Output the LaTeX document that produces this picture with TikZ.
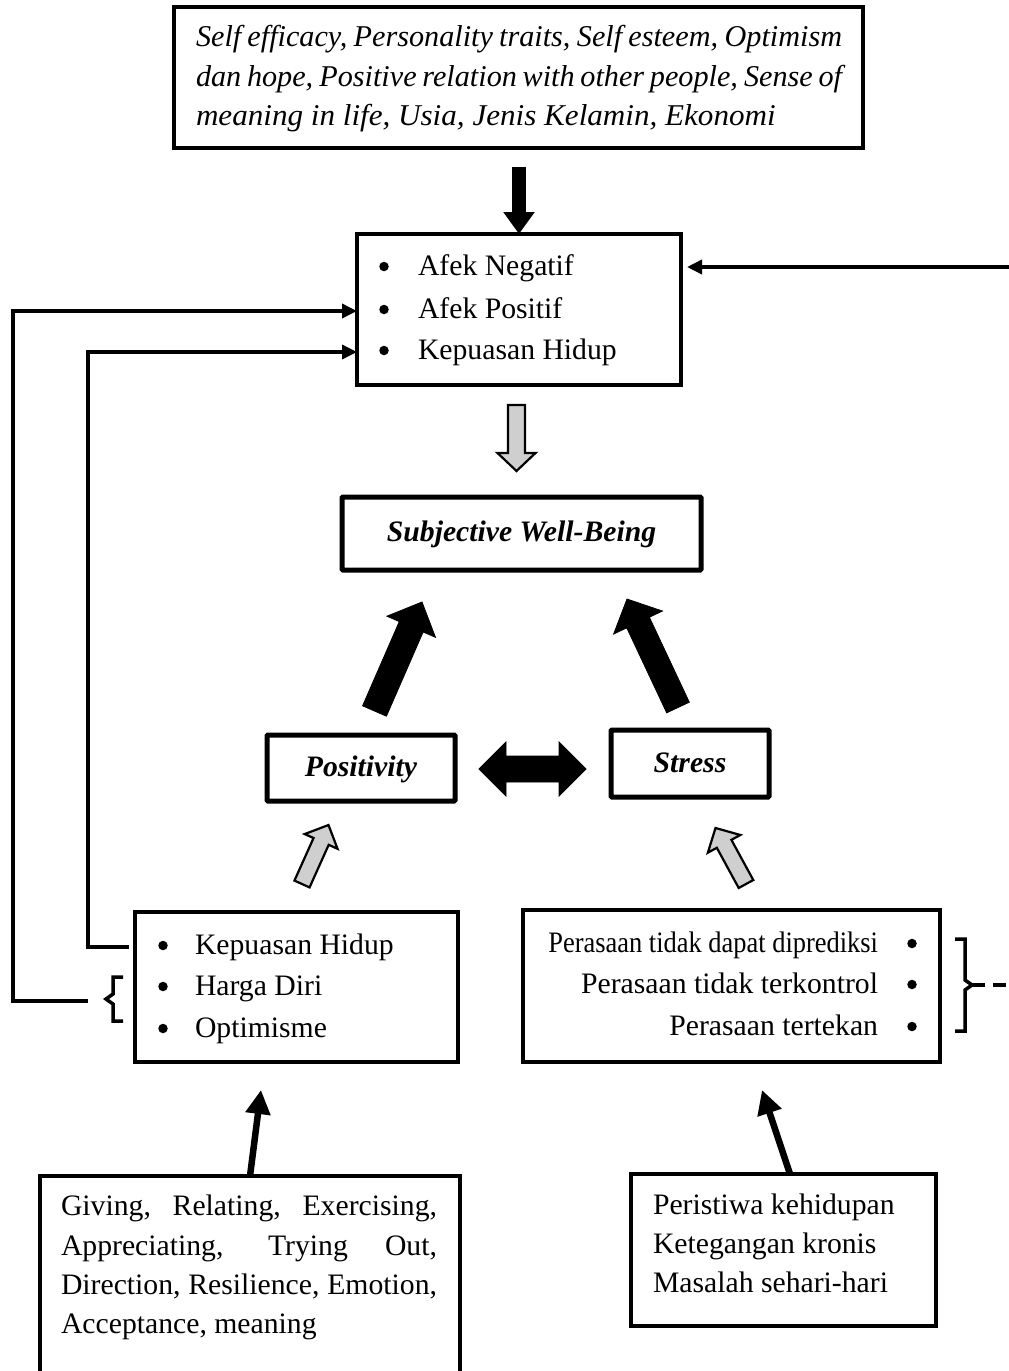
\documentclass[tikz,border=0pt]{standalone}
\usepackage{fontspec}
\setmainfont{Liberation Serif}
\usepackage{graphicx}
\usetikzlibrary{arrows.meta,calc}
\newcommand{\fs}{\fontsize{29.7}{36}\selectfont}
\newcommand{\fst}{\fontsize{30.2}{36}\selectfont}
\newcommand{\blockarr}[6]{%
  \coordinate (bac) at ($(#3)!#6!(#2)$);
  \draw[#1] ($(#2)!#4!90:(#3)$) -- ($(bac)!#4!90:(#3)$) -- ($(bac)!#5!90:(#3)$) -- (#3) -- ($(bac)!#5!-90:(#3)$) -- ($(bac)!#4!-90:(#3)$) -- ($(#2)!#4!-90:(#3)$) -- cycle;}
\tikzset{
  box/.style={draw, line width=3.3pt, inner sep=0pt, outer sep=0pt, rectangle},
  thickbox/.style={draw, line width=5pt, inner sep=0pt, outer sep=0pt, rectangle, rounded corners=1pt},
  txt/.style={inner sep=0pt, outer sep=0pt, anchor=base west, font=\fs},
  dot/.style={circle, fill=black, inner sep=0pt, outer sep=0pt, minimum size=9.5pt},
  conn/.style={line width=3.5pt, line join=miter, -{Triangle[length=15pt,width=14pt]}},
  thinarr/.style={line width=6.5pt, -{Triangle[length=24pt,width=24pt]}},
  blackarrow/.style={fill=black, draw=black, line width=0.8pt, line join=miter},
  grayarrow/.style={fill=black!19, draw=black, line width=2.2pt, line join=miter},
  brk/.style={line width=3.5pt, line join=miter},
}
\begin{document}
\begin{tikzpicture}[x=1pt,y=-1pt]
\useasboundingbox (0,0) rectangle (1009,1371);
\clip (0,0) rectangle (1009,1371);

% ---------- boxes ----------
\node[box, minimum width=689pt, minimum height=141pt] (top) at (518.5,77.5) {};
\node[box, minimum width=324pt, minimum height=151pt] (affect) at (519,309.5) {};
\node[thickbox, minimum width=359pt, minimum height=73pt] (swb) at (521.5,533.5) {};
\node[thickbox, minimum width=188pt, minimum height=66pt] (pos) at (361,768) {};
\node[thickbox, minimum width=158pt, minimum height=67pt] (stress) at (690,763.5) {};
\node[box, minimum width=323pt, minimum height=150pt] (poslist) at (296.5,987) {};
\node[box, minimum width=417pt, minimum height=152pt] (strlist) at (731.5,986) {};
\node[box, minimum width=420pt, minimum height=209pt] (bl) at (250,1280.5) {};
\node[box, minimum width=305pt, minimum height=152pt] (br) at (783.5,1250) {};

% ---------- texts ----------
\node[txt, font=\fst] (t1) at (196,46) {\itshape\makebox[646pt][s]{Self efficacy, Personality traits, Self esteem, Optimism}};
\node[txt, font=\fst] (t2) at (196,86) {\itshape\makebox[646pt][s]{dan hope, Positive relation with other people, Sense of}};
\node[txt, font=\fst] (t3) at (196,125) {\itshape\scalebox{1.03}[1]{meaning in life, Usia, Jenis Kelamin, Ekonomi}};

\foreach \n/\y/\s in {a1/275/Afek Negatif, a2/318/Afek Positif, a3/359/Kepuasan Hidup}{
  \node[dot] (\n b) at (384,\y-8.5) {};
  \node[txt] (\n) at (418,\y) {\s};
}

\node[txt, anchor=base] (swbt) at (521.5,541) {\bfseries\itshape Subjective Well-Being};
\node[txt, anchor=base] (post) at (361,776) {\bfseries\itshape Positivity};
\node[txt, anchor=base] (strt) at (690,772) {\bfseries\itshape Stress};

\foreach \n/\y/\s in {p1/954/Kepuasan Hidup, p2/995/Harga Diri, p3/1037/Optimisme}{
  \node[dot] (\n b) at (163,\y-8.5) {};
  \node[txt] (\n) at (195,\y) {\s};
}

\node[txt, anchor=base east] (s1) at (878,952) {\scalebox{0.89}[1]{Perasaan tidak dapat diprediksi}};
\node[txt, anchor=base east] (s2) at (878,993) {Perasaan tidak terkontrol};
\node[txt, anchor=base east] (s3) at (878,1035) {Perasaan tertekan};
\foreach \n/\y in {s1/952, s2/993, s3/1035}{
  \node[dot] (\n b) at (912,\y-8.5) {};
}

\node[txt] (b1) at (61,1215) {\makebox[376pt][s]{Giving, Relating, Exercising,}};
\node[txt] (b2) at (61,1255) {\makebox[376pt][s]{Appreciating, Trying Out,}};
\node[txt] (b3) at (61,1294) {\makebox[376pt][s]{Direction, Resilience, Emotion,}};
\node[txt] (b4) at (61,1333) {Acceptance, meaning};

\node[txt] (r1) at (653,1214) {Peristiwa kehidupan};
\node[txt] (r2) at (653,1253) {Ketegangan kronis};
\node[txt] (r3) at (653,1292) {Masalah sehari-hari};

% ---------- connectors ----------
\draw[line width=14pt, -{Triangle[length=22pt,width=30pt]}, shorten <=19pt]
  (top.south -| affect.north) -- (affect.north);

\coordinate (ga) at (516.5,405);
\coordinate (gb) at (516.5,471);
\blockarr{grayarrow}{ga}{gb}{8.5pt}{19pt}{18pt}

\coordinate (la) at (374.5,711);
\coordinate (lb) at (422,602);
\blockarr{blackarrow}{la}{lb}{13pt}{26.5pt}{27pt}
\coordinate (ra) at (678,707.5);
\coordinate (rb) at (627,599);
\blockarr{blackarrow}{ra}{rb}{12.5pt}{27pt}{26pt}

\draw[blackarrow] (479,769) -- (506,742) -- (506,756) -- (559,756) -- (559,742) -- (586,769)
  -- (559,796) -- (559,782) -- (506,782) -- (506,796) -- cycle;

\coordinate (pga) at (302,884);
\coordinate (pgb) at (328.5,825);
\blockarr{grayarrow}{pga}{pgb}{8.3pt}{18pt}{18pt}
\coordinate (sga) at (746,884);
\coordinate (sgb) at (715.5,828);
\blockarr{grayarrow}{sga}{sgb}{8.3pt}{18.5pt}{18pt}

\coordinate (bla) at (250,1176);
\coordinate (blb) at (261,1090);
\draw[thinarr] (bla) -- (blb);
\coordinate (bra) at (790,1174);
\coordinate (brb) at (762,1090);
\draw[thinarr] (bra) -- (brb);

\coordinate (rin) at (1012,267);
\coordinate (rend) at (687,267);
\draw[conn] (rin) -- (rend);

\coordinate (c1s) at (88,1001);
\coordinate (c1e) at (357,311);
\draw[conn] (c1s) -- (13,1001) -- (13,311) -- (c1e);
\coordinate (c2s) at (129,947);
\coordinate (c2e) at (357,352);
\draw[conn] (c2s) -- (88,947) -- (88,352) -- (c2e);

% brackets
\draw[brk] (123,977) -- (113,977) -- (113,994) -- (106,999) -- (113,1004) -- (113,1021) -- (123,1021);
\draw[brk] (955,939) -- (965,939) -- (965,980) -- (972,985) -- (965,990) -- (965,1031) -- (955,1031);
\coordinate (dsh) at (972,985);
\coordinate (dse) at (1012,985);
\draw[line width=3.5pt, dash pattern=on 13pt off 8pt] (dsh) -- (dse);
\end{tikzpicture}
\end{document}
